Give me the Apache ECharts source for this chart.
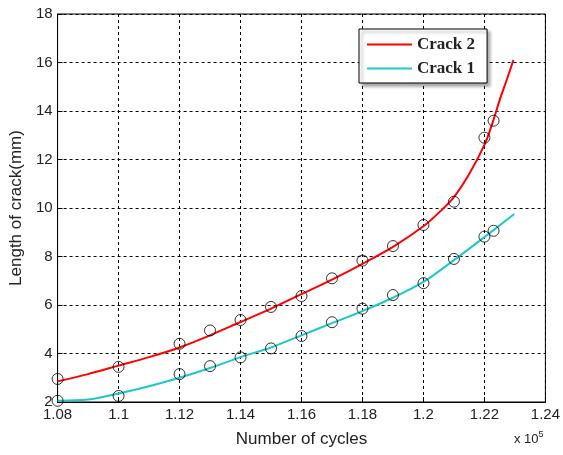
<!DOCTYPE html>
<html><head><meta charset="utf-8">
<script src="https://cdn.jsdelivr.net/npm/echarts@6/dist/echarts.min.js"></script>
<style>html,body{margin:0;padding:0;background:#fff}#c{width:563px;height:455px}</style>
</head><body><div id="c"></div>
<script>
// x values in units of 1e5 cycles
const crack2LineX = [1.08,1.09,1.10,1.11,1.12,1.13,1.14,1.15,1.16,1.17,1.18,1.19,1.20,1.205,1.21,1.215,1.22,1.2225,1.225,1.2275,1.2295];
const crack2LineY = [2.85,3.15,3.5,3.85,4.25,4.75,5.3,5.85,6.45,7.05,7.7,8.4,9.25,9.8,10.45,11.4,12.6,13.45,14.45,15.35,16.1];
const crack1LineX = [1.08,1.09,1.10,1.11,1.12,1.13,1.14,1.15,1.16,1.17,1.18,1.19,1.20,1.21,1.22,1.2298];
const crack1LineY = [2.05,2.1,2.35,2.65,3.0,3.4,3.85,4.25,4.75,5.25,5.75,6.3,6.95,7.85,8.8,9.75];
const crack2PtsX = [1.08,1.10,1.12,1.13,1.14,1.15,1.16,1.17,1.18,1.19,1.20,1.21,1.22,1.223];
const crack2PtsY = [2.95,3.45,4.4,4.95,5.38,5.92,6.37,7.1,7.83,8.43,9.3,10.26,12.9,13.6];
const crack1PtsX = [1.08,1.10,1.12,1.13,1.14,1.15,1.16,1.17,1.18,1.19,1.20,1.21,1.22,1.223];
const crack1PtsY = [2.05,2.25,3.15,3.48,3.84,4.21,4.72,5.29,5.85,6.41,6.9,7.9,8.82,9.06];
const xTicks = [1.08,1.24,0.02];
const yTicks = [2,18,2];

const toPts = (xs, ys) => xs.map((x, i) => [x * 100, ys[i]]);
const chart = echarts.init(document.getElementById('c'), null, {renderer: 'canvas'});
const font = 'Liberation Sans, Arial, sans-serif';
chart.setOption({
  animation: false,
  backgroundColor: '#fff',
  grid: {left: 57, right: 15, top: 14, bottom: 53, show: true, borderColor: '#000', borderWidth: 1, backgroundColor: 'transparent'},
  xAxis: {
    type: 'value', min: xTicks[0]*100, max: xTicks[1]*100, interval: xTicks[2]*100,
    name: 'Number of cycles', nameLocation: 'middle', nameGap: 29,
    nameTextStyle: {fontFamily: font, fontSize: 17, color: '#222'},
    axisLine: {show: true, lineStyle: {color: '#000', width: 1}},
    axisTick: {show: true, inside: true, length: 5, lineStyle: {color: '#000'}},
    axisLabel: {margin: 5, fontFamily: font, fontSize: 15, color: '#222',
      formatter: v => String(Number((v/100).toFixed(2)))},
    splitLine: {show: true, lineStyle: {color: '#000', type: [3, 3], width: 1}}
  },
  yAxis: {
    type: 'value', min: yTicks[0], max: yTicks[1], interval: yTicks[2],
    name: 'Length of crack(mm)', nameLocation: 'middle', nameGap: 30,
    nameTextStyle: {fontFamily: font, fontSize: 17, color: '#222'},
    axisLine: {show: true, lineStyle: {color: '#000', width: 1}},
    axisTick: {show: true, inside: true, length: 5, lineStyle: {color: '#000'}},
    axisLabel: {margin: 5, fontFamily: font, fontSize: 15, color: '#222'},
    splitLine: {show: true, lineStyle: {color: '#000', type: [3, 3], width: 1}}
  },
  legend: {
    orient: 'vertical', left: 359, top: 29,
    data: ['Crack 2', 'Crack 1'],
    icon: 'rect', itemWidth: 45, itemHeight: 2, itemGap: 7,
    padding: [7, 12, 6, 8],
    backgroundColor: '#fff', borderColor: '#000', borderWidth: 1,
    shadowColor: 'rgba(0,0,0,0.35)', shadowBlur: 3, shadowOffsetX: 3, shadowOffsetY: 3,
    textStyle: {fontFamily: 'Liberation Serif, Times New Roman, serif', fontSize: 17, fontWeight: 'bold', color: '#222'}
  },
  graphic: [{
    type: 'text', left: 514, top: 430,
    style: {text: '{a|x 10}{b|5}', rich: {a: {fontFamily: font, fontSize: 13, fill: '#222'}, b: {fontFamily: font, fontSize: 9, fill: '#222', verticalAlign: 'top', padding: [0,0,10,0]}}}
  }],
  series: [
    {name: 'Crack 2', type: 'line', data: toPts(crack2LineX, crack2LineY), smooth: 0.3, showSymbol: false,
     lineStyle: {color: '#ff0000', width: 2}, itemStyle: {color: '#ff0000'}, z: 3},
    {name: 'Crack 1', type: 'line', data: toPts(crack1LineX, crack1LineY), smooth: 0.3, showSymbol: false,
     lineStyle: {color: '#1ec8c8', width: 2}, itemStyle: {color: '#1ec8c8'}, z: 3},
    {type: 'scatter', data: toPts(crack2PtsX, crack2PtsY), symbol: 'circle', symbolSize: 11,
     itemStyle: {color: 'rgba(0,0,0,0)', borderColor: '#000', borderWidth: 1}, z: 4, silent: true},
    {type: 'scatter', data: toPts(crack1PtsX, crack1PtsY), symbol: 'circle', symbolSize: 11,
     itemStyle: {color: 'rgba(0,0,0,0)', borderColor: '#000', borderWidth: 1}, z: 4, silent: true}
  ]
});
</script></body></html>
